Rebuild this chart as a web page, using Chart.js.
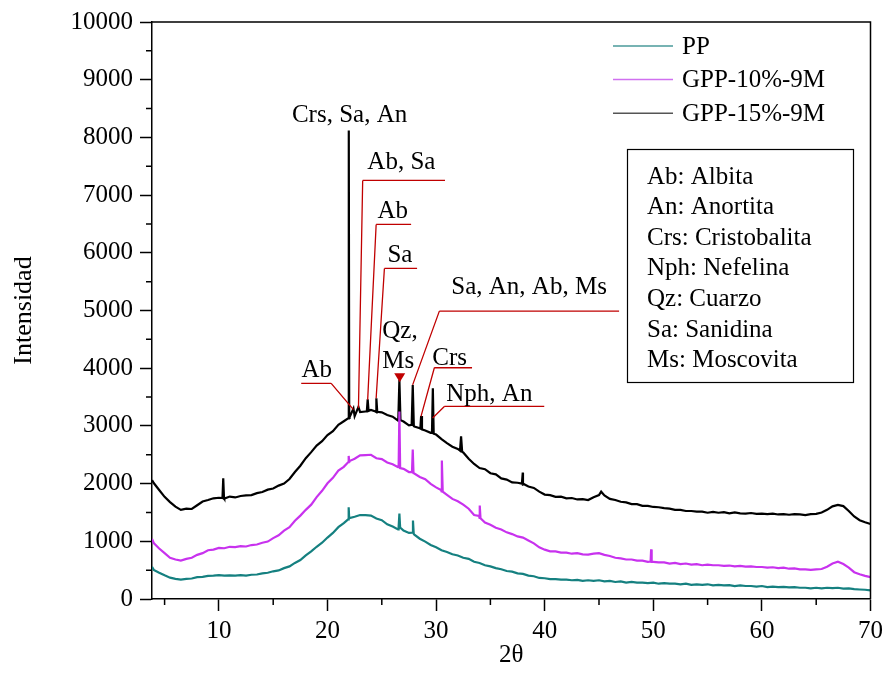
<!DOCTYPE html>
<html>
<head>
<meta charset="utf-8">
<script src="https://cdn.jsdelivr.net/npm/chart.js@4.4.1/dist/chart.umd.min.js"></script>
<style>
  html, body { margin: 0; padding: 0; background: #ffffff; }
  canvas { display: block; background: #ffffff; }
</style>
</head>
<body>
<canvas id="c" width="888" height="692"></canvas>
<script>
// ---------------- DATA ----------------
// 2θ sampling grid of the base patterns (4.0° to 70.0°, every 0.5°)
const angleGrid = Array.from({ length: 133 }, (_, i) => 4 + i * 0.5);

const seriesNames = ['PP', 'GPP-10%-9M', 'GPP-15%-9M'];

// PP intensities on the grid
const ppValues = [
  505, 455, 410, 370, 350, 335, 350, 355, 380, 385,
  400, 405, 415, 405, 410, 405, 415, 405, 420, 425,
  445, 455, 480, 495, 535, 565, 625, 675, 755, 825,
  905, 975, 1065, 1145, 1245, 1315, 1395, 1425, 1455, 1455,
  1445, 1395, 1365, 1295, 1255, 1205, 1185, 1145, 1115, 1045,
  995, 935, 895, 845, 815, 775, 755, 715, 695, 645,
  625, 585, 565, 535, 515, 485, 475, 445, 435, 405,
  395, 365, 360, 345, 345, 335, 335, 325, 330, 315,
  325, 315, 325, 305, 315, 295, 305, 285, 295, 285,
  285, 275, 285, 265, 275, 265, 265, 255, 265, 245,
  255, 245, 255, 235, 245, 235, 240, 225, 235, 225,
  225, 215, 225, 205, 215, 205, 210, 200, 205, 195,
  195, 185, 195, 185, 195, 190, 195, 180, 185, 170,
  165, 160, 150
];
// GPP-10%-9M intensities on the grid
const gpp10Values = [
  970, 875, 795, 715, 685, 665, 695, 715, 765, 795,
  845, 855, 885, 880, 905, 900, 915, 910, 935, 945,
  975, 995, 1055, 1105, 1185, 1245, 1355, 1445, 1545, 1635,
  1765, 1875, 2005, 2100, 2225, 2290, 2385, 2430, 2490, 2495,
  2500, 2440, 2425, 2365, 2335, 2285, 2255, 2200, 2175, 2115,
  2075, 1995, 1935, 1865, 1805, 1735, 1695, 1635, 1565, 1455,
  1405, 1325, 1285, 1235, 1205, 1155, 1125, 1085, 1065, 1015,
  965, 895, 855, 825, 825, 805, 805, 785, 795, 775,
  770, 785, 795, 765, 745, 715, 705, 685, 685, 665,
  665, 645, 645, 635, 635, 615, 625, 605, 615, 595,
  605, 585, 595, 585, 585, 575, 580, 565, 575, 560,
  565, 555, 555, 545, 550, 535, 545, 525, 530, 515,
  515, 505, 515, 520, 560, 615, 645, 605, 545, 465,
  430, 400, 380
];
// GPP-15%-9M intensities on the grid
const gpp15Values = [
  2010, 1890, 1770, 1680, 1600, 1545, 1565, 1560, 1625, 1690,
  1715, 1745, 1755, 1740, 1775, 1760, 1785, 1795, 1800, 1835,
  1855, 1895, 1915, 1965, 2000, 2080, 2200, 2310, 2440, 2545,
  2660, 2735, 2840, 2910, 3020, 3080, 3140, 3170, 3240, 3250,
  3275, 3240, 3235, 3190, 3160, 3090, 3075, 3010, 2990, 2960,
  2920, 2880, 2850, 2770, 2700, 2640, 2600, 2540, 2430, 2340,
  2270, 2250, 2180, 2160, 2090, 2070, 2020, 2015, 1985, 1950,
  1925, 1860, 1810, 1800, 1770, 1775, 1745, 1750, 1725, 1730,
  1715, 1765, 1800, 1795, 1735, 1715, 1685, 1675, 1645, 1645,
  1615, 1615, 1595, 1590, 1575, 1565, 1545, 1545, 1525, 1525,
  1515, 1515, 1495, 1510, 1495, 1505, 1485, 1500, 1485, 1480,
  1490, 1475, 1480, 1470, 1480, 1465, 1470, 1460, 1470, 1465,
  1455, 1470, 1475, 1500, 1545, 1605, 1630, 1610, 1525, 1430,
  1365, 1330, 1300
];

// Sharp reflections and start points: [2θ, intensity]
const ppPeaks = [
  [3.84, 560], [21.9, 1380], [21.95, 1590], [22.0, 1400],
  [26.55, 1250], [26.62, 1480], [26.69, 1240],
  [27.8, 1150], [27.87, 1360], [27.94, 1130]
];
const gpp10Peaks = [
  [3.84, 1040], [21.9, 2370], [21.95, 2480], [22.02, 2390],
  [26.55, 2290], [26.62, 3250], [26.69, 2270],
  [27.78, 2200], [27.85, 2590], [27.92, 2180],
  [30.45, 1890], [30.53, 2400], [30.61, 1860],
  [33.95, 1440], [34.02, 1620], [34.09, 1400],
  [49.75, 650], [49.8, 860], [49.85, 645]
];
const gpp15Peaks = [
  [3.84, 2060], [10.33, 1750], [10.4, 2090], [10.47, 1750],
  [21.9, 3130], [21.96, 8120], [22.03, 3150],
  [22.39, 3300], [22.85, 3330],
  [23.62, 3250], [23.7, 3460], [23.78, 3260],
  [24.42, 3250], [24.5, 3480], [24.58, 3245],
  [26.52, 3110], [26.62, 3800], [26.72, 3100],
  [27.75, 3020], [27.85, 3710], [27.95, 2995],
  [28.55, 2955], [28.62, 3170], [28.7, 2940],
  [29.62, 2880], [29.7, 3650], [29.78, 2865],
  [32.2, 2570], [32.3, 2820], [32.4, 2550],
  [37.9, 2000], [37.98, 2190], [38.1, 1990],
  [45.2, 1860]
];

// Tick labels
const xTickValues = [10, 20, 30, 40, 50, 60, 70];
const xMinorValues = [5, 15, 25, 35, 45, 55, 65];
const yTickValues = [0, 1000, 2000, 3000, 4000, 5000, 6000, 7000, 8000, 9000, 10000];
const yMinorValues = [500, 1500, 2500, 3500, 4500, 5500, 6500, 7500, 8500, 9500];

// Phase annotations (text) and phase legend
const phaseLabels = ['Crs, Sa, An', 'Ab', 'Ab, Sa', 'Ab', 'Sa', 'Sa, An, Ab, Ms', 'Crs', 'Nph, An'];
const phaseLegend = ['Ab: Albita', 'An: Anortita', 'Crs: Cristobalita', 'Nph: Nefelina',
                     'Qz: Cuarzo', 'Sa: Sanidina', 'Ms: Moscovita'];

// ---------------- BUILD ----------------
function build(values, peaks) {
  const pts = angleGrid.map((a, i) => ({ x: a, y: values[i] }));
  peaks.forEach(p => pts.push({ x: p[0], y: p[1] }));
  pts.sort((a, b) => a.x - b.x);
  return pts;
}

const FONT = '"Liberation Serif", "Times New Roman", serif';

// annotation layout (data coordinates): text pos, bar, leader
const annotations = [
  { text: phaseLabels[0], tx: 22.03, ty: 8274, align: 'center' },
  { text: phaseLabels[1], tx: 17.6, ty: 3853, bar: [17.58, 20.34, 3738], lead: [20.34, 3738, 22.39, 3281] },
  { text: phaseLabels[2], tx: 23.67, ty: 7449, bar: [23.24, 30.82, 7254], lead: [23.24, 7254, 22.85, 3308] },
  { text: phaseLabels[3], tx: 24.6, ty: 6606, bar: [24.48, 27.70, 6491], lead: [24.48, 6491, 23.70, 3453] },
  { text: phaseLabels[4], tx: 25.52, ty: 5832, bar: [25.24, 28.25, 5729], lead: [25.24, 5729, 24.48, 3480] },
  { text: phaseLabels[5], tx: 31.40, ty: 5281, bar: [30.30, 46.85, 4989], lead: [30.30, 4989, 27.84, 3711] },
  { text: phaseLabels[6], tx: 29.65, ty: 4060, bar: [29.84, 33.31, 4008], lead: [29.84, 4008, 28.61, 3165] },
  { text: phaseLabels[7], tx: 30.94, ty: 3423, bar: [30.76, 39.96, 3337], lead: [30.76, 3337, 29.68, 3136] }
];

const annotationPlugin = {
  id: 'phaseAnnotations',
  afterDatasetsDraw(chart) {
    const { ctx, scales: { x, y } } = chart;
    ctx.save();
    ctx.font = '25px ' + FONT;
    ctx.fillStyle = '#000';
    ctx.textBaseline = 'alphabetic';
    ctx.strokeStyle = '#c00000';
    ctx.lineWidth = 1.3;
    annotations.forEach(a => {
      if (a.bar) {
        ctx.beginPath();
        ctx.moveTo(x.getPixelForValue(a.bar[0]), y.getPixelForValue(a.bar[2]));
        ctx.lineTo(x.getPixelForValue(a.bar[1]), y.getPixelForValue(a.bar[2]));
        ctx.moveTo(x.getPixelForValue(a.lead[0]), y.getPixelForValue(a.lead[1]));
        ctx.lineTo(x.getPixelForValue(a.lead[2]), y.getPixelForValue(a.lead[3]));
        ctx.stroke();
      }
      ctx.textAlign = a.align || 'left';
      ctx.fillText(a.text, x.getPixelForValue(a.tx), y.getPixelForValue(a.ty));
    });
    // Qz, Ms label with triangle marker
    ctx.textAlign = 'left';
    ctx.fillText('Qz,', x.getPixelForValue(25.04), y.getPixelForValue(4524));
    ctx.fillText('Ms', x.getPixelForValue(25.04), y.getPixelForValue(4008));
    const tx = x.getPixelForValue(26.65), ty = y.getPixelForValue(3755);
    ctx.fillStyle = '#c00000';
    ctx.beginPath();
    ctx.moveTo(tx - 5.5, ty - 9);
    ctx.lineTo(tx + 5.5, ty - 9);
    ctx.lineTo(tx, ty);
    ctx.closePath();
    ctx.fill();
    ctx.restore();
  }
};

const framePlugin = {
  id: 'frame',
  afterDraw(chart) {
    const { ctx, chartArea: { left, right, top, bottom }, scales: { x, y } } = chart;
    ctx.save();
    ctx.strokeStyle = '#000';
    ctx.lineWidth = 1.5;
    ctx.beginPath();
    ctx.moveTo(left, top);
    ctx.lineTo(right, top);
    ctx.lineTo(right, bottom);
    yMinorValues.forEach(v => {
      const py = y.getPixelForValue(v);
      ctx.moveTo(left - 6, py); ctx.lineTo(left, py);
    });
    xMinorValues.forEach(v => {
      const px = x.getPixelForValue(v);
      ctx.moveTo(px, bottom); ctx.lineTo(px, bottom + 6);
    });
    ctx.stroke();
    ctx.restore();
  }
};

const legendPlugin = {
  id: 'customLegend',
  afterDraw(chart) {
    const { ctx } = chart;
    ctx.save();
    ctx.font = '25px ' + FONT;
    ctx.textBaseline = 'middle';
    ctx.textAlign = 'left';
    chart.data.datasets.forEach((ds, i) => {
      const yy = 46 + i * 33.6;
      ctx.strokeStyle = ds.legendColor;
      ctx.lineWidth = 1.5;
      ctx.beginPath();
      ctx.moveTo(613, yy); ctx.lineTo(673, yy);
      ctx.stroke();
      ctx.fillStyle = '#000';
      ctx.fillText(ds.label, 682, yy + 1);
    });
    // phase legend box
    ctx.strokeStyle = '#000';
    ctx.lineWidth = 1.2;
    ctx.strokeRect(627.5, 149.5, 226, 233);
    ctx.fillStyle = '#000';
    phaseLegend.forEach((t, i) => {
      ctx.fillText(t, 647, 177 + i * 30.6);
    });
    ctx.restore();
  }
};

new Chart(document.getElementById('c'), {
  type: 'line',
  data: {
    datasets: [
      { label: seriesNames[0], data: build(ppValues, ppPeaks), borderColor: '#158080', legendColor: '#4a9a9a' },
      { label: seriesNames[1], data: build(gpp10Values, gpp10Peaks), borderColor: '#c832ee', legendColor: '#d070f0' },
      { label: seriesNames[2], data: build(gpp15Values, gpp15Peaks), borderColor: '#000000', legendColor: '#555555' }
    ].map(d => Object.assign(d, { borderWidth: 2.2, pointRadius: 0, tension: 0, fill: false }))
  },
  options: {
    responsive: false,
    animation: false,
    devicePixelRatio: 1,
    layout: { padding: { left: 0, top: 18, right: 16, bottom: 0 } },
    plugins: { legend: { display: false }, tooltip: { enabled: false } },
    scales: {
      x: {
        type: 'linear', min: 3.84, max: 70,
        afterBuildTicks: s => { s.ticks = xTickValues.map(v => ({ value: v })); },
        afterFit: s => { s.height = 93; },
        grid: { drawOnChartArea: false, tickLength: 12, tickColor: '#000', tickWidth: 1.5 },
        border: { color: '#000', width: 1.5 },
        ticks: { color: '#000', font: { family: FONT, size: 25 }, padding: 5, maxRotation: 0, callback: v => String(v) },
        title: { display: true, text: '2θ', color: '#000', font: { family: FONT, size: 25 }, padding: { top: 0, bottom: 22 } }
      },
      y: {
        type: 'linear', min: 0, max: 10000,
        afterBuildTicks: s => { s.ticks = yTickValues.map(v => ({ value: v })); },
        afterFit: s => { s.width = 152; },
        grid: { drawOnChartArea: false, tickLength: 12, tickColor: '#000', tickWidth: 1.5 },
        border: { color: '#000', width: 1.5 },
        ticks: { color: '#000', font: { family: FONT, size: 25 }, padding: 7, callback: v => String(v) },
        title: { display: true, text: 'Intensidad', color: '#000', font: { family: FONT, size: 26 }, padding: { top: 9, bottom: 0 } }
      }
    }
  },
  plugins: [framePlugin, annotationPlugin, legendPlugin]
});
</script>
</body>
</html>
